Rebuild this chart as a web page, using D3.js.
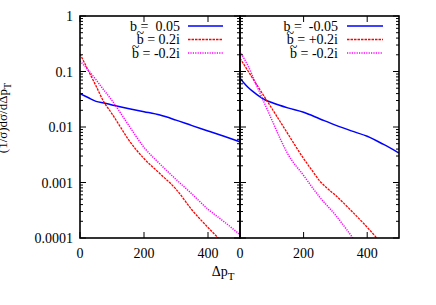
<!DOCTYPE html>
<html>
<head>
<meta charset="utf-8">
<script src="https://cdn.jsdelivr.net/npm/d3@7"></script>
<style>
  body { margin: 0; background: #fff; }
  text { font-family: "Liberation Serif", "DejaVu Serif", serif; fill: #000; }
</style>
</head>
<body>
<div id="chart"></div>
<script>
// panel geometry
var W = 436, H = 305;
var plotTop = 16, plotBottom = 238;
var panels = [{x0: 80, x1: 240}, {x0: 240, x1: 399}];

// x values (delta pT) and y values
var leftBlueX  = [0, 25, 50, 75, 100, 150, 200, 250, 300, 350, 400, 450, 500];
var leftBlueY  = [0.040, 0.034, 0.029, 0.027, 0.025, 0.0216, 0.0189, 0.0164, 0.0133, 0.0106, 0.0085, 0.0068, 0.0054];
var leftRedX   = [0, 25, 50, 75, 100, 125, 150, 200, 250, 300, 350, 400, 432];
var leftRedY   = [0.207, 0.107, 0.055, 0.028, 0.0173, 0.0103, 0.0061, 0.0027, 0.00144, 0.00076, 0.00032, 0.000155, 0.0001];
var leftMagX   = [0, 25, 50, 75, 100, 150, 200, 250, 300, 350, 400, 450, 500];
var leftMagY   = [0.155, 0.107, 0.071, 0.046, 0.030, 0.0112, 0.0043, 0.00215, 0.00114, 0.00062, 0.00033, 0.000197, 0.000115];

var rightBlueX = [0, 12.5, 25, 50, 75, 100, 150, 200, 250, 300, 350, 400, 450, 500];
var rightBlueY = [0.076, 0.062, 0.052, 0.0396, 0.0316, 0.0276, 0.0221, 0.0184, 0.0141, 0.0108, 0.0085, 0.0068, 0.0049, 0.0034];
var rightRedX  = [0, 50, 100, 150, 200, 225, 250, 275, 300, 350, 400, 430];
var rightRedY  = [0.173, 0.061, 0.0217, 0.0076, 0.0027, 0.0017, 0.00108, 0.00078, 0.00059, 0.00031, 0.000156, 0.0001];
var rightMagX  = [0, 25, 50, 75, 100, 125, 150, 200, 250, 300, 355];
var rightMagY  = [0.228, 0.127, 0.060, 0.0284, 0.0135, 0.0064, 0.0033, 0.00134, 0.00055, 0.00026, 0.0001];

// a leading "~" marks a b with a tilde over it
var legendLeft  = ["b =  0.05", "~b = 0.2i", "~b = -0.2i"];
var legendRight = ["b =  -0.05", "~b = +0.2i", "~b = -0.2i"];

var xTicks = [0, 200, 400];
var yTicks = [1, 0.1, 0.01, 0.001, 0.0001];
var yTickLabels = ["1", "0.1", "0.01", "0.001", "0.0001"];

var styles = [
  {color: "#0000ff", dash: null, width: 1.5},
  {color: "#ff0000", dash: "2.5,1", width: 1.3},
  {color: "#ff00ff", dash: "1.2,1.2", width: 1.5}
];

var seriesSets = [
  [[leftBlueX, leftBlueY], [leftRedX, leftRedY], [leftMagX, leftMagY]],
  [[rightBlueX, rightBlueY], [rightRedX, rightRedY], [rightMagX, rightMagY]]
];
var legends = [legendLeft, legendRight];
var legendPos = [{textEnd: 180, l0: 188, l1: 223}, {textEnd: 338, l0: 347, l1: 383}];

var y = d3.scaleLog().domain([0.0001, 1]).range([plotBottom, plotTop]);

var svg = d3.select("#chart").append("svg")
    .attr("width", W)
    .attr("height", H);

var defs = svg.append("defs");

// minor ticks for the log axis
var minor = [];
[0.0001, 0.001, 0.01, 0.1].forEach(function(d) {
  for (var k = 2; k <= 9; k++) minor.push(d * k);
});

panels.forEach(function(p, i) {
  var x = d3.scaleLinear().domain([0, 500]).range([p.x0, p.x1]);

  defs.append("clipPath").attr("id", "clip" + i)
    .append("rect")
    .attr("x", p.x0).attr("y", plotTop)
    .attr("width", p.x1 - p.x0).attr("height", plotBottom - plotTop);

  var g = svg.append("g");

  // curves
  var line = d3.line()
    .curve(d3.curveMonotoneX)
    .x(function(d) { return x(d[0]); })
    .y(function(d) { return y(d[1]); });

  seriesSets[i].forEach(function(s, j) {
    var pts = s[0].map(function(v, k) { return [v, s[1][k]]; });
    g.append("path")
      .datum(pts)
      .attr("clip-path", "url(#clip" + i + ")")
      .attr("fill", "none")
      .attr("stroke", styles[j].color)
      .attr("stroke-width", styles[j].width)
      .attr("stroke-dasharray", styles[j].dash)
      .attr("d", line);
  });

  // y ticks, inside on both sides
  var tg = g.append("g").attr("stroke", "#000").attr("stroke-width", 1);
  yTicks.forEach(function(v) {
    tg.append("line").attr("x1", p.x0).attr("x2", p.x0 + 6).attr("y1", y(v)).attr("y2", y(v));
    tg.append("line").attr("x1", p.x1).attr("x2", p.x1 - 6).attr("y1", y(v)).attr("y2", y(v));
  });
  minor.forEach(function(v) {
    tg.append("line").attr("x1", p.x0).attr("x2", p.x0 + 3).attr("y1", y(v)).attr("y2", y(v));
    tg.append("line").attr("x1", p.x1).attr("x2", p.x1 - 3).attr("y1", y(v)).attr("y2", y(v));
  });
  // x ticks, bottom and top
  xTicks.forEach(function(v) {
    tg.append("line").attr("x1", x(v)).attr("x2", x(v)).attr("y1", plotBottom).attr("y2", plotBottom - 6);
    tg.append("line").attr("x1", x(v)).attr("x2", x(v)).attr("y1", plotTop).attr("y2", plotTop + 6);
  });

  // x tick labels
  g.selectAll(".xl").data(xTicks).enter().append("text")
    .attr("x", function(d) { return x(d); })
    .attr("y", 258)
    .attr("text-anchor", "middle")
    .attr("font-size", 14)
    .text(function(d) { return d; });

  // frame
  g.append("rect")
    .attr("x", p.x0).attr("y", plotTop)
    .attr("width", p.x1 - p.x0).attr("height", plotBottom - plotTop)
    .attr("fill", "none").attr("stroke", "#000").attr("stroke-width", 1.6);

  // legend
  var lp = legendPos[i];
  legends[i].forEach(function(t, j) {
    var ly = 26 + j * 13.5;
    var hasTilde = t.charAt(0) === "~";
    var label = hasTilde ? t.slice(1) : t;
    var txt = g.append("text")
      .attr("x", lp.textEnd).attr("y", ly + 4.5)
      .attr("text-anchor", "end")
      .attr("font-size", 14)
      .style("white-space", "pre")
      .text(label);
    if (hasTilde) {
      var node = txt.node();
      var bx = node.getStartPositionOfChar(0).x;
      var bw = node.getSubStringLength(0, 1);
      g.append("text")
        .attr("x", bx + bw / 2).attr("y", ly - 1.5)
        .attr("text-anchor", "middle")
        .attr("font-size", 14)
        .text("~");
    }
    g.append("line")
      .attr("x1", lp.l0).attr("x2", lp.l1).attr("y1", ly).attr("y2", ly)
      .attr("stroke", styles[j].color)
      .attr("stroke-width", styles[j].width)
      .attr("stroke-dasharray", styles[j].dash);
  });
});

// y tick labels on the left panel only
svg.selectAll(".yl").data(yTicks).enter().append("text")
  .attr("x", 73)
  .attr("y", function(d) { return y(d) + 5; })
  .attr("text-anchor", "end")
  .attr("font-size", 14)
  .text(function(d, i) { return yTickLabels[i]; });

// axis titles
var xt = svg.append("text")
  .attr("x", 223).attr("y", 276)
  .attr("text-anchor", "middle")
  .attr("font-size", 14);
xt.append("tspan").text("\u0394p");
xt.append("tspan").attr("dy", 4).attr("font-size", 11).text("T");

var yt = svg.append("text")
  .attr("transform", "translate(7,118) rotate(-90)")
  .attr("text-anchor", "middle")
  .attr("font-size", 13);
yt.append("tspan").text("(1/\u03c3)d\u03c3/d\u0394p");
yt.append("tspan").attr("dy", 4).attr("font-size", 10).text("T");
</script>
</body>
</html>
